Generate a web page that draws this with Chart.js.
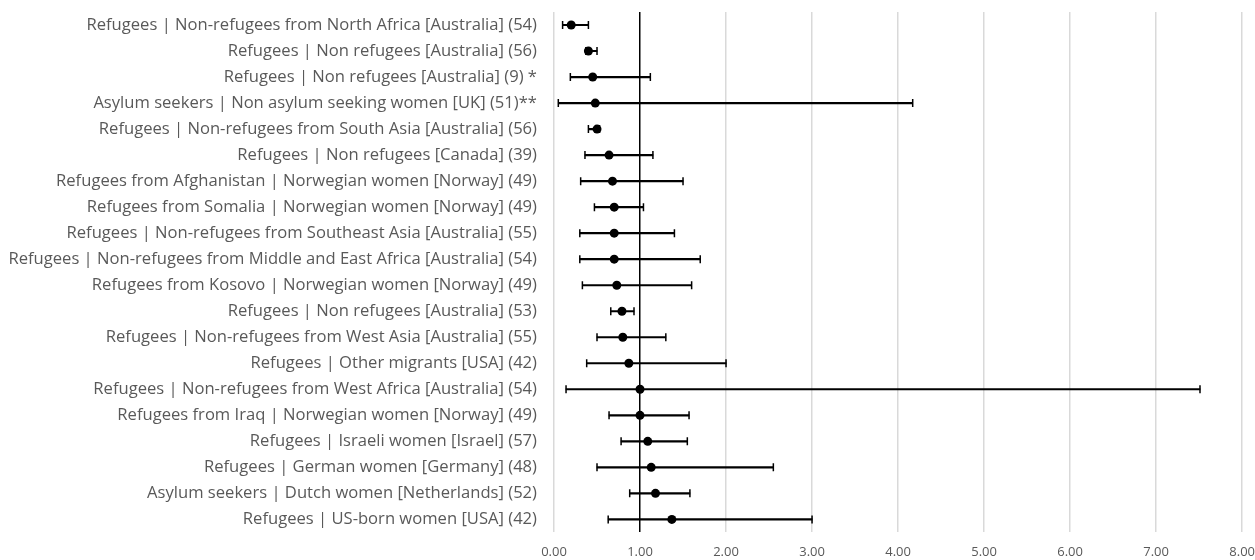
<!DOCTYPE html>
<html>
<head>
    <meta charset="utf-8">
    <title>Forest plot</title>
    <script src="https://cdn.jsdelivr.net/npm/chart.js"></script>
    <style>
        html, body { margin: 0; padding: 0; background: #fff; }
        #wrap { width: 1255px; height: 560px; }
    </style>
</head>
<body>
    <div id="wrap"><canvas id="graph"></canvas></div>
    <script>
        const labels = [
            'Refugees | Non-refugees from North Africa [Australia] (54)',
            'Refugees | Non refugees [Australia] (56)',
            'Refugees | Non refugees [Australia] (9) *',
            'Asylum seekers | Non asylum seeking women [UK] (51)**',
            'Refugees | Non-refugees from South Asia [Australia] (56)',
            'Refugees | Non refugees [Canada] (39)',
            'Refugees from Afghanistan | Norwegian women [Norway] (49)',
            'Refugees from Somalia | Norwegian women [Norway] (49)',
            'Refugees | Non-refugees from Southeast Asia [Australia] (55)',
            'Refugees | Non-refugees from Middle and East Africa [Australia] (54)',
            'Refugees from Kosovo | Norwegian women [Norway] (49)',
            'Refugees | Non refugees [Australia] (53)',
            'Refugees | Non-refugees from West Asia [Australia] (55)',
            'Refugees | Other migrants [USA] (42)',
            'Refugees | Non-refugees from West Africa [Australia] (54)',
            'Refugees from Iraq | Norwegian women [Norway] (49)',
            'Refugees | Israeli women [Israel] (57)',
            'Refugees | German women [Germany] (48)',
            'Asylum seekers | Dutch women [Netherlands] (52)',
            'Refugees | US-born women [USA] (42)'
        ];
        const estimate = [0.20, 0.40, 0.45, 0.48, 0.50, 0.64, 0.68, 0.70, 0.70, 0.70,
            0.73, 0.79, 0.80, 0.87, 1.00, 1.00, 1.09, 1.13, 1.18, 1.37];
        const lower = [0.10, 0.37, 0.19, 0.05, 0.40, 0.36, 0.31, 0.47, 0.30, 0.30,
            0.33, 0.66, 0.50, 0.38, 0.14, 0.64, 0.78, 0.50, 0.88, 0.63];
        const upper = [0.40, 0.50, 1.12, 4.17, 0.53, 1.15, 1.50, 1.04, 1.40, 1.70,
            1.60, 0.93, 1.30, 2.00, 7.51, 1.57, 1.55, 2.55, 1.58, 3.00];
        const xTicks = [0, 1, 2, 3, 4, 5, 6, 7, 8];

        const txt = '#595959';
        const fam = '"Open Sans", "Noto Sans", sans-serif';

        const ctx = document.getElementById('graph').getContext('2d');
        new Chart(ctx, {
            type: 'bar',
            data: {
                labels: labels,
                datasets: [
                    {
                        // CI whiskers as thin floating bars
                        type: 'bar',
                        indexAxis: 'y',
                        data: lower.map((l, i) => [l, upper[i]]),
                        backgroundColor: '#000',
                        borderWidth: 0,
                        barThickness: 1.5,
                        order: 3
                    },
                    {
                        type: 'line',
                        indexAxis: 'y',
                        data: lower,
                        showLine: false,
                        pointStyle: 'line',
                        rotation: 90,
                        pointRadius: 4,
                        pointBorderWidth: 1.5,
                        pointBorderColor: '#000',
                        order: 2
                    },
                    {
                        type: 'line',
                        indexAxis: 'y',
                        data: upper,
                        showLine: false,
                        pointStyle: 'line',
                        rotation: 90,
                        pointRadius: 4,
                        pointBorderWidth: 1.5,
                        pointBorderColor: '#000',
                        order: 2
                    },
                    {
                        type: 'line',
                        indexAxis: 'y',
                        data: estimate,
                        showLine: false,
                        pointStyle: 'circle',
                        pointRadius: 4.5,
                        pointBackgroundColor: '#000',
                        pointBorderColor: '#000',
                        pointBorderWidth: 0,
                        order: 1
                    }
                ]
            },
            options: {
                indexAxis: 'y',
                responsive: true,
                maintainAspectRatio: false,
                animation: false,
                layout: { padding: { top: 12, left: 0, right: 0, bottom: 0 } },
                plugins: {
                    legend: { display: false },
                    tooltip: { enabled: false }
                },
                scales: {
                    x: {
                        type: 'linear',
                        min: 0,
                        max: 8,
                        afterBuildTicks: s => { s.ticks = xTicks.map(v => ({ value: v })); },
                        border: { display: false },
                        grid: {
                            color: c => c.tick && c.tick.value === 1 ? '#000' : '#d9d9d9',
                            lineWidth: 1.5,
                            tickLength: 12,
                            tickColor: 'rgba(0,0,0,0)'
                        },
                        ticks: {
                            color: txt,
                            font: { family: fam, size: 13 },
                            padding: 0,
                            maxRotation: 0,
                            callback: v => Number(v).toFixed(2)
                        }
                    },
                    y: {
                        type: 'category',
                        offset: true,
                        border: { display: false },
                        grid: { display: false, drawTicks: false },
                        afterFit: s => {
                            s.width = 554;
                            s.paddingTop = 0;
                            s.paddingBottom = 0;
                        },
                        ticks: {
                            color: txt,
                            font: { family: fam, size: 16.6 },
                            padding: 17,
                            autoSkip: false
                        }
                    }
                }
            }
        });
    </script>
</body>
</html>
